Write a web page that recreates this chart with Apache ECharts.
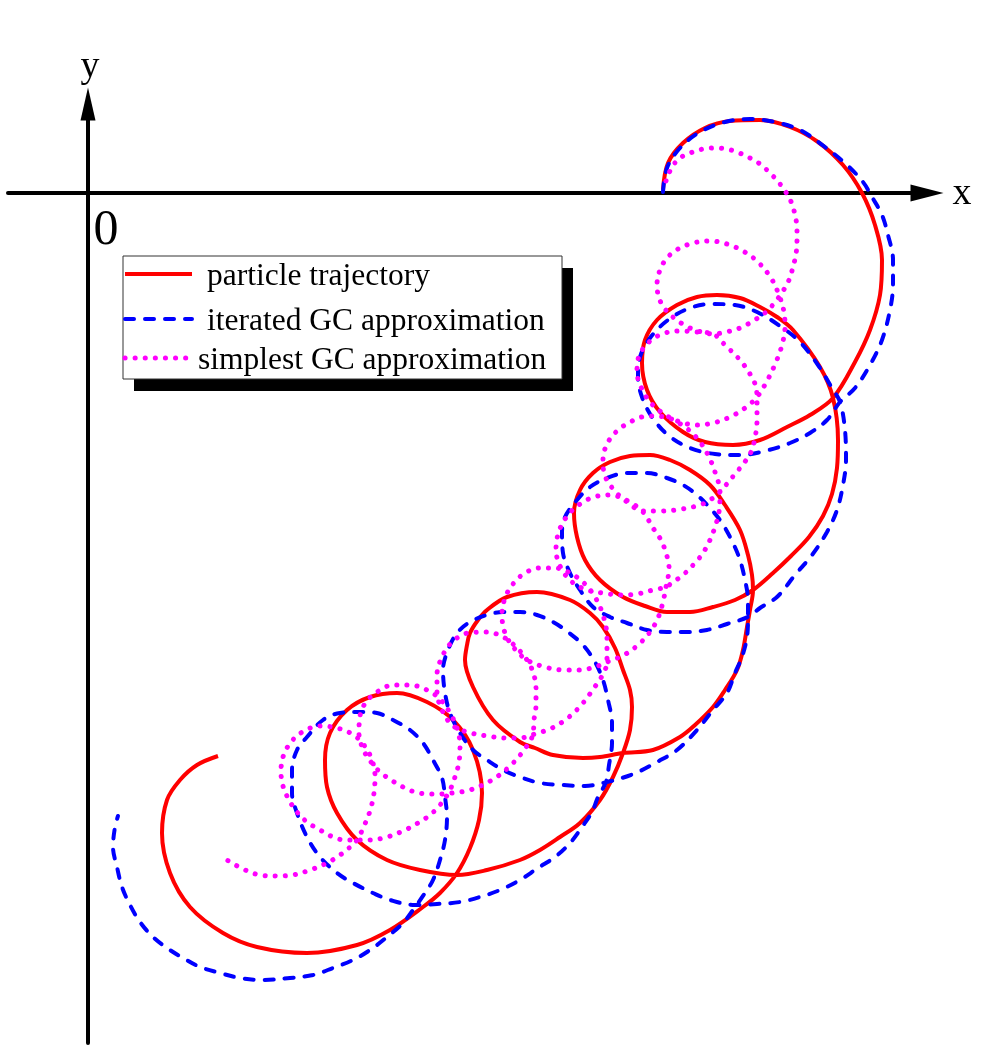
<!DOCTYPE html>
<html>
<head>
<meta charset="utf-8">
<script src="https://cdn.jsdelivr.net/npm/echarts@6/dist/echarts.min.js"></script>
<style>
html,body{margin:0;padding:0;background:#fff;}
#chart{width:988px;height:1052px;}
</style>
</head>
<body>
<div id="chart"></div>
<script>
// Values, in picture units (origin at the axes crossing, y up).
const seriesNames = ['particle trajectory', 'iterated GC approximation', 'simplest GC approximation'];
const axisNames = ['x', 'y', '0'];

const particleTrajectory = [
[575,3],[580,30],[595,50],[617,65],[642,72],[672,73],[702,66],[730,51],[755,28],[774,0],[787,-32],[794,-67],[792,-102],[782,-137],[767,-169],[745,-205],[722,-222],[699,-234],[672,-247],[645,-252],[617,-249],[595,-239],[572,-219],[559,-197],[554,-170],[557,-147],[569,-127],[589,-112],[609,-104],[629,-102],[652,-105],[672,-114],[689,-124],[705,-137],[732,-174],[745,-205],[750,-247],[749,-275],[744,-301],[735,-323],[721,-344],[703,-363],[685,-380],[665,-397],[647,-407],[625,-414],[602,-419],[579,-419],[557,-413],[535,-404],[512,-387],[497,-367],[489,-344],[486,-320],[492,-297],[505,-280],[522,-269],[542,-263],[562,-262],[582,-267],[602,-277],[622,-292],[637,-312],[652,-337],[660,-362],[664,-382],[665,-397],[662,-417],[659,-434],[655,-457],[649,-477],[637,-497],[625,-514],[607,-532],[592,-544],[565,-557],[535,-560],[512,-564],[495,-565],[465,-562],[447,-555],[432,-549],[405,-527],[385,-494],[377,-467],[379,-452],[382,-440],[390,-427],[399,-417],[419,-404],[449,-399],[482,-407],[502,-420],[515,-434],[527,-455],[535,-477],[542,-497],[544,-514],[542,-537],[535,-560],[525,-584],[512,-607],[492,-630],[472,-644],[452,-657],[432,-667],[399,-677],[369,-682],[332,-677],[299,-667],[269,-647],[249,-620],[239,-594],[237,-567],[242,-540],[259,-517],[282,-504],[309,-500],[339,-509],[365,-527],[385,-557],[394,-600],[391,-627],[382,-655],[369,-680],[352,-700],[335,-714],[302,-737],[269,-752],[219,-760],[169,-754],[135,-740],[102,-714],[82,-680],[74,-640],[79,-607],[92,-587],[109,-572],[130,-563]
];

const iteratedGC = [
[575,1],[579,25],[592,45],[612,61],[637,71],[662,74],[687,71],[712,63],[737,46],[759,28],[775,11],[784,-4],[794,-22],[800,-42],[805,-67],[805,-92],[802,-117],[794,-147],[782,-172],[767,-195],[752,-209],[739,-227],[722,-240],[702,-250],[677,-258],[652,-262],[627,-261],[602,-255],[580,-242],[564,-224],[554,-204],[550,-184],[552,-164],[562,-145],[580,-127],[602,-115],[624,-111],[647,-112],[669,-119],[692,-133],[712,-149],[730,-172],[744,-195],[752,-209],[757,-237],[758,-267],[755,-292],[749,-317],[739,-339],[724,-362],[707,-382],[689,-404],[672,-415],[660,-424],[639,-431],[619,-437],[599,-439],[579,-439],[559,-437],[539,-430],[522,-424],[505,-414],[492,-397],[482,-380],[475,-360],[474,-340],[477,-324],[489,-307],[502,-294],[519,-285],[539,-280],[559,-280],[579,-285],[595,-292],[609,-302],[622,-315],[634,-330],[645,-350],[652,-367],[657,-387],[660,-407],[660,-424],[659,-444],[654,-464],[647,-480],[639,-500],[625,-517],[609,-537],[589,-557],[569,-569],[550,-579],[534,-585],[519,-589],[497,-593],[474,-592],[452,-590],[432,-584],[415,-577],[399,-567],[385,-557],[372,-540],[362,-520],[357,-500],[355,-477],[360,-457],[369,-440],[382,-429],[399,-422],[415,-419],[432,-419],[449,-422],[465,-429],[480,-439],[495,-452],[507,-469],[515,-487],[520,-507],[524,-530],[524,-550],[521,-572],[518,-589],[510,-604],[504,-619],[494,-634],[482,-650],[467,-664],[450,-675],[432,-687],[412,-697],[392,-704],[372,-709],[349,-711],[327,-712],[302,-707],[285,-700],[265,-690],[249,-680],[232,-664],[219,-644],[209,-620],[204,-600],[204,-577],[209,-557],[219,-544],[235,-527],[252,-520],[272,-519],[289,-520],[305,-527],[322,-537],[335,-550],[345,-567],[354,-585],[357,-604],[359,-624],[357,-647],[352,-667],[345,-687],[337,-700],[325,-717],[315,-730],[299,-744],[282,-757],[265,-767],[245,-775],[225,-782],[202,-785],[175,-787],[152,-785],[132,-780],[112,-774],[95,-765],[79,-755],[65,-744],[52,-729],[42,-712],[34,-694],[29,-674],[25,-654],[27,-634],[30,-623]
];

const simplestGC = [
[578,12],[584,26],[592,35],[602,40],[615,44],[629,45],[639,44],[649,41],[662,35],[672,29],[684,18],[692,9],[699,-1],[704,-11],[707,-22],[709,-35],[709,-48],[708,-61],[705,-74],[701,-87],[695,-98],[688,-108],[678,-119],[665,-128],[652,-135],[638,-139],[625,-141],
[610,-138],[598,-133],[586,-125],[577,-116],[571,-105],[569,-92],[572,-77],[579,-65],[590,-56],[605,-50],[622,-48],[639,-51],[655,-58],[670,-69],[683,-85],[691,-102],[696,-119],[697,-134],[694,-152],[688,-169],[679,-188],[669,-204],
[657,-215],[642,-224],[625,-230],[609,-232],[592,-229],[576,-221],[562,-209],[553,-194],[549,-179],[551,-163],[560,-150],[574,-141],[592,-138],[609,-139],[625,-141],[637,-152],[652,-167],[662,-181],[668,-194],[669,-207],
[669,-227],[667,-245],[663,-259],[656,-270],[647,-281],[638,-292],[632,-299],
[622,-307],[612,-312],[594,-316],[574,-318],[555,-318],[539,-309],[526,-297],[517,-283],[515,-267],[519,-251],[529,-238],[544,-228],[560,-223],[577,-224],[594,-232],[609,-245],[620,-262],[627,-279],[632,-299],
[631,-319],[627,-334],[622,-347],[615,-360],[607,-370],[595,-382],[585,-389],[578,-394],
[565,-397],[549,-401],[532,-402],[515,-400],[499,-397],[484,-389],[473,-375],[468,-357],[471,-338],[480,-322],[492,-311],[506,-304],[522,-302],[540,-308],[555,-319],[565,-335],[573,-347],[578,-360],[581,-374],[580,-385],[578,-394],
[575,-409],[570,-425],[562,-439],[550,-452],[536,-462],[519,-469],
[507,-474],[492,-477],[475,-477],[457,-474],[439,-467],[426,-455],[417,-440],[414,-422],[417,-405],[425,-391],[437,-380],[452,-375],[467,-375],[482,-380],[496,-390],[507,-404],[515,-422],[519,-444],[519,-469],
[514,-483],[506,-495],[495,-510],[481,-524],[464,-535],[447,-541],
[432,-545],[417,-545],[399,-543],[379,-539],[364,-532],[354,-517],[349,-499],[349,-482],[354,-464],[364,-449],[380,-440],[399,-439],[417,-445],[430,-456],[439,-467],[445,-479],[448,-495],[448,-512],[446,-527],[445,-541],
[436,-557],[422,-573],[404,-587],[382,-597],[364,-600],
[352,-601],[340,-601],[327,-599],[315,-594],[303,-587],[292,-579],[283,-569],[275,-556],[271,-540],[272,-523],[278,-509],[289,-499],[305,-492],[322,-492],[339,-497],[352,-506],[362,-520],[369,-535],[372,-552],[371,-569],[367,-584],[361,-599],
[352,-612],[342,-622],[330,-630],[315,-638],[299,-644],[282,-647],[269,-647],
[257,-647],[245,-644],[232,-637],[219,-629],[209,-619],[201,-607],[195,-593],[193,-579],[195,-564],[203,-549],[216,-538],[232,-533],[249,-535],[264,-541],[276,-552],[284,-567],[287,-583],[286,-600],[282,-618],[276,-633],[269,-647],
[261,-655],[252,-662],[239,-670],[222,-677],[205,-682],[189,-683],[172,-682],[155,-676],[139,-667]
];

const chart = echarts.init(document.getElementById('chart'), null, {renderer: 'canvas'});
const serif = '"Liberation Serif", "Times New Roman", serif';
const colors = ['#ff0000', '#0000ff', '#ff00ff'];
const lineStyles = [
  {color: colors[0], width: 4},
  {color: colors[1], width: 4, type: [9, 11], cap: 'round'},
  {color: colors[2], width: 5, type: [0.1, 10], cap: 'round'}
];

function axisCommon(min, max, arrowSize) {
  return {
    type: 'value', min: min, max: max,
    axisLine: {show: true, onZero: true, symbol: ['none', 'triangle'], symbolSize: arrowSize,
               lineStyle: {color: '#000', width: 4}},
    axisTick: {show: false}, axisLabel: {show: false}, splitLine: {show: false}
  };
}

// legend drawn as graphic (box with hard black shadow, line samples, text)
const legendBox = {x: 123, y: 256, w: 439, h: 123, shadowDx: 11, shadowDy: 12};
const legendRowsY = [274, 319, 358];
const legendTextX = [207, 207, 198];
const legendGraphic = [
  {type: 'rect', shape: {x: legendBox.x + legendBox.shadowDx, y: legendBox.y + legendBox.shadowDy, width: legendBox.w, height: legendBox.h},
   style: {fill: '#000'}, z: 100},
  {type: 'rect', shape: {x: legendBox.x, y: legendBox.y, width: legendBox.w, height: legendBox.h},
   style: {fill: '#fff', stroke: '#333', lineWidth: 1}, z: 101}
];
seriesNames.forEach(function (name, i) {
  const ls = lineStyles[i];
  legendGraphic.push({type: 'line', z: 102,
    shape: {x1: legendBox.x + 2, y1: legendRowsY[i], x2: legendBox.x + 69, y2: legendRowsY[i]},
    style: {stroke: ls.color, lineWidth: ls.width, lineDash: ls.type || null, lineCap: ls.cap || 'butt'}});
  legendGraphic.push({type: 'text', z: 102, x: legendTextX[i], y: legendRowsY[i] + 3,
    style: {text: name, font: '31.5px ' + serif, fill: '#000', textAlign: 'left', textVerticalAlign: 'middle'}});
});

chart.setOption({
  backgroundColor: '#fff',
  animation: false,
  grid: {left: 8, top: 104, width: 919, height: 939},
  xAxis: axisCommon(-80, 839, [17, 33]),
  yAxis: axisCommon(-850, 89, [15, 33]),
  graphic: legendGraphic.concat([
    {type: 'text', x: 962, y: 194, style: {text: axisNames[0], font: '38px ' + serif, fill: '#000', textAlign: 'center', textVerticalAlign: 'middle'}},
    {type: 'text', x: 90, y: 67, style: {text: axisNames[1], font: '38px ' + serif, fill: '#000', textAlign: 'center', textVerticalAlign: 'middle'}},
    {type: 'text', x: 106, y: 231, style: {text: axisNames[2], font: '50px ' + serif, fill: '#000', textAlign: 'center', textVerticalAlign: 'middle'}}
  ]),
  series: [
    {name: seriesNames[0], type: 'line', data: particleTrajectory, smooth: 0.35, symbol: 'none', showSymbol: false, z: 3,
     lineStyle: lineStyles[0], itemStyle: {color: colors[0]}},
    {name: seriesNames[1], type: 'line', data: iteratedGC, smooth: 0.35, symbol: 'none', showSymbol: false, z: 4,
     lineStyle: lineStyles[1], itemStyle: {color: colors[1]}},
    {name: seriesNames[2], type: 'line', data: simplestGC, smooth: 0.35, symbol: 'none', showSymbol: false, z: 5,
     lineStyle: lineStyles[2], itemStyle: {color: colors[2]}}
  ]
});
</script>
</body>
</html>
